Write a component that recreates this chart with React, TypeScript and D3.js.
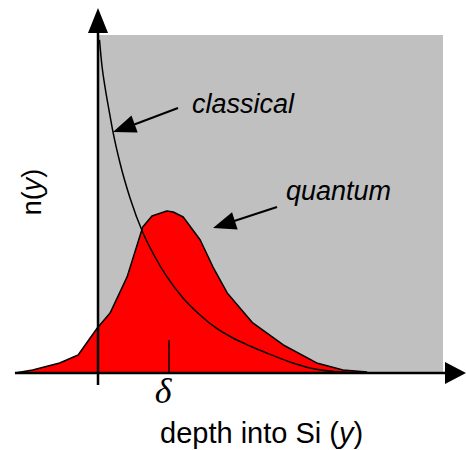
import React from "react";
import * as d3 from "d3";

// depth (units of delta) and normalized density
const quantumDepth = [-1.17, -0.92, -0.54, -0.28, -0.01, 0.17, 0.41, 0.63, 0.76, 0.97, 1.06, 1.2, 1.44, 1.62, 1.82, 2.18, 2.61, 3.08, 3.45, 3.79];
const quantumN = [0, 0.019, 0.062, 0.111, 0.278, 0.37, 0.593, 0.901, 0.969, 1.0, 0.994, 0.963, 0.821, 0.654, 0.494, 0.309, 0.173, 0.062, 0.019, 0.006];

const classicalDepth = [0.021, 0.056, 0.099, 0.155, 0.211, 0.31, 0.451, 0.634, 0.803, 0.972, 1.197, 1.437, 1.662, 1.901, 2.141, 2.38, 2.704, 2.986, 3.408, 3.789];
const classicalN = [2.056, 1.895, 1.765, 1.623, 1.488, 1.296, 1.08, 0.864, 0.716, 0.593, 0.463, 0.358, 0.278, 0.216, 0.167, 0.123, 0.068, 0.031, 0.006, 0];

const deltaDepth = 1;
const labels = { classical: "classical", quantum: "quantum", xTitle: "depth into Si (", yTitle: "n(" };

export default function App() {
  const W = 466, H = 450;
  const x = d3.scaleLinear().domain([0, 1]).range([98, 169]);
  const y = d3.scaleLinear().domain([0, 1]).range([373, 211]);

  const qPts: [number, number][] = quantumDepth.map((d, i) => [d, quantumN[i]]);
  const cPts: [number, number][] = classicalDepth.map((d, i) => [d, classicalN[i]]);

  const area = d3.area<[number, number]>().x(d => x(d[0])).y0(y(0)).y1(d => y(d[1])).curve(d3.curveLinear);
  const qLine = d3.line<[number, number]>().x(d => x(d[0])).y(d => y(d[1])).curve(d3.curveLinear);
  const cLine = d3.line<[number, number]>().x(d => x(d[0])).y(d => y(d[1])).curve(d3.curveMonotoneX);

  const arrowHead = (x1: number, y1: number, x2: number, y2: number, len: number, hw: number) => {
    const dx = x2 - x1, dy = y2 - y1;
    const L = Math.hypot(dx, dy);
    const ux = dx / L, uy = dy / L;
    const bx = x2 - ux * len, by = y2 - uy * len;
    const px = -uy, py = ux;
    return `M${x2},${y2}L${bx + px * hw},${by + py * hw}L${bx - px * hw},${by - py * hw}Z`;
  };

  const ax0 = x(0);
  const ay0 = y(0);

  return (
    <svg width={W} height={H} style={{ position: "absolute", left: 0, top: 0, background: "#fff" }}>
      <rect x={ax0 + 1} y={35} width={443 - ax0 - 1} height={ay0 - 1 - 35} fill="#c0c0c0" />
      <path d={area(qPts) || ""} fill="#ff0000" />
      <path d={qLine(qPts) || ""} fill="none" stroke="#000" strokeWidth={1.5} strokeLinejoin="round" />
      <path d={cLine(cPts) || ""} fill="none" stroke="#000" strokeWidth={1.5} />
      {/* delta tick */}
      <line x1={x(deltaDepth)} x2={x(deltaDepth)} y1={340} y2={ay0} stroke="#000" strokeWidth={1.5} />
      {/* axes */}
      <line x1={15} x2={448} y1={ay0} y2={ay0} stroke="#000" strokeWidth={2.5} />
      <path d={`M466,${ay0}L445,${ay0 - 11}L445,${ay0 + 11}Z`} fill="#000" />
      <line x1={ax0} x2={ax0} y1={385} y2={30} stroke="#000" strokeWidth={2.5} />
      <path d={`M${ax0},8L${ax0 - 10},33L${ax0 + 10},33Z`} fill="#000" />
      {/* annotation arrows */}
      <line x1={178} y1={108} x2={125} y2={128} stroke="#000" strokeWidth={2} />
      <path d={arrowHead(178, 108, 113, 132, 23, 9)} fill="#000" />
      <line x1={277} y1={207} x2={225} y2={224} stroke="#000" strokeWidth={2} />
      <path d={arrowHead(277, 207, 213, 228, 23, 9)} fill="#000" />
      {/* labels */}
      <text x={192} y={113} fontFamily="Liberation Sans, Arial, sans-serif" fontStyle="italic" fontSize={27} fill="#000">{labels.classical}</text>
      <text x={286} y={200} fontFamily="Liberation Sans, Arial, sans-serif" fontStyle="italic" fontSize={27} fill="#000">{labels.quantum}</text>
      <text x={163} y={403} textAnchor="middle" fontFamily="Liberation Serif, Times New Roman, serif" fontStyle="italic" fontSize={36} fill="#000">δ</text>
      <text x={160} y={443} fontFamily="Liberation Sans, Arial, sans-serif" fontSize={29} fill="#000">
        {labels.xTitle}<tspan fontStyle="italic">y</tspan>)
      </text>
      <text transform="translate(41,192) rotate(-90)" textAnchor="middle" fontFamily="Liberation Sans, Arial, sans-serif" fontSize={27} fill="#000">
        {labels.yTitle}<tspan fontStyle="italic">y</tspan>)
      </text>
    </svg>
  );
}
